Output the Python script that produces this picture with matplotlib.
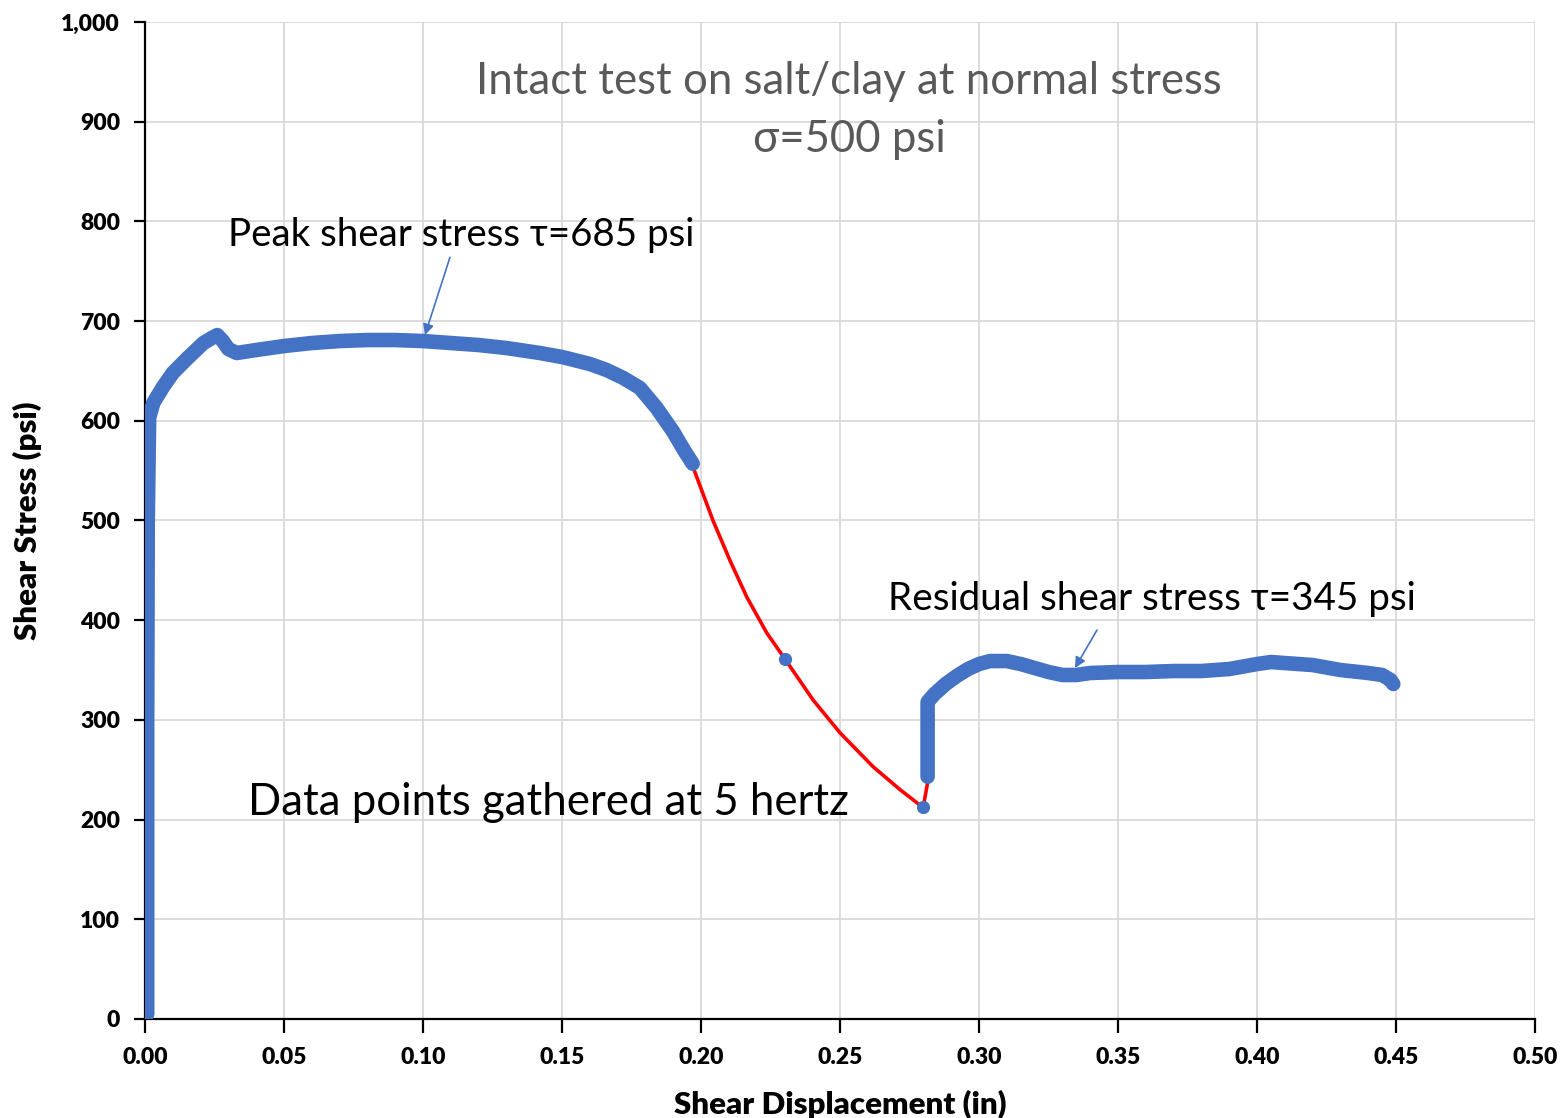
import matplotlib
matplotlib.use("Agg")
import matplotlib.pyplot as plt
from matplotlib.ticker import FuncFormatter

plt.rcParams['font.family'] = ['Lato', 'DejaVu Sans']

# Measured (blue) series: pre-peak and post-peak
x_pre = [0.0008, 0.0008, 0.0010, 0.0015, 0.003, 0.0065, 0.010, 0.015, 0.021, 0.024, 0.026,
         0.028, 0.030, 0.033, 0.040, 0.050, 0.060, 0.070, 0.080, 0.090, 0.100, 0.110,
         0.120, 0.130, 0.142, 0.150, 0.160, 0.166, 0.172, 0.178, 0.184, 0.190,
         0.194, 0.197]
y_pre = [5, 300, 500, 603, 618, 634, 648, 662, 678, 683, 686,
         680, 672, 668, 671, 675, 678, 680, 681, 681, 680, 678,
         676, 673, 668, 664, 657, 651, 643, 633, 613, 589,
         570, 557]

# Interpolated gap (red)
x_gap = [0.1968, 0.2043, 0.2104, 0.2165, 0.2237, 0.2302, 0.2403, 0.2500, 0.2619, 0.2716,
         0.2799, 0.2815]
y_gap = [556, 500, 460, 423, 387, 361, 320, 287, 253, 230,
         212, 237]

# Isolated samples inside the gap
x_iso = [0.2302, 0.2799]
y_iso = [361, 213]

# Residual (blue)
x_res = [0.2815, 0.2815, 0.2815, 0.284, 0.288, 0.292, 0.296, 0.300, 0.304, 0.310,
         0.315, 0.320, 0.325, 0.330, 0.335, 0.340, 0.350, 0.360, 0.370, 0.380,
         0.390, 0.400, 0.405, 0.410, 0.420, 0.430, 0.440, 0.445, 0.448, 0.449]
y_res = [243, 290, 318, 326, 336, 344, 351, 356, 359, 359,
         356, 352, 348, 345, 345, 347, 348, 348, 349, 349,
         351, 356, 358, 357, 355, 350, 347, 345, 340, 336]

x_ticks = [0.00, 0.05, 0.10, 0.15, 0.20, 0.25, 0.30, 0.35, 0.40, 0.45, 0.50]
y_ticks = [0, 100, 200, 300, 400, 500, 600, 700, 800, 900, 1000]

blue = '#4472C4'
fig = plt.figure(figsize=(15.64, 11.18), dpi=100)
ax = fig.add_axes([0.0927, 0.0886, 0.8888, 0.8917])

ax.plot(x_gap, y_gap, color='#FF0000', lw=2.6, zorder=3)
ax.plot(x_pre, y_pre, color=blue, lw=10.5, solid_capstyle='round', solid_joinstyle='round', zorder=4)
ax.plot(x_res, y_res, color=blue, lw=10.5, solid_capstyle='round', solid_joinstyle='round', zorder=4)
ax.plot(x_iso, y_iso, 'o', color=blue, ms=8.5, zorder=5)

ax.set_xlim(0, 0.5)
ax.set_ylim(0, 1000)
ax.set_xticks(x_ticks)
ax.set_yticks(y_ticks)
ax.xaxis.set_major_formatter(FuncFormatter(lambda v, p: f'{v:.2f}'))
ax.yaxis.set_major_formatter(FuncFormatter(lambda v, p: f'{int(v):,}'))
ax.grid(True, color='#d9d9d9', lw=1.3)
ax.set_axisbelow(True)
for s in ['top', 'right']:
    ax.spines[s].set_visible(False)
for s in ['left', 'bottom']:
    ax.spines[s].set_linewidth(1.6)
ax.tick_params(axis='x', direction='out', length=10, width=1.6, labelsize=16.5, pad=10)
ax.tick_params(axis='y', direction='out', length=8, width=1.6, labelsize=16.5, pad=10)
for lab in ax.get_xticklabels() + ax.get_yticklabels():
    lab.set_fontweight('heavy')

ax.set_xlabel('Shear Displacement (in)', fontsize=22.5, fontweight='heavy', labelpad=16)
ax.set_ylabel('Shear Stress (psi)', fontsize=22.5, fontweight='heavy', labelpad=14)

ax.text(0.2532, 940, 'Intact test on salt/clay at normal stress', ha='center', va='center',
        fontsize=31.5, color='#595959')
ax.text(0.2532, 882, 'σ=500 psi', ha='center', va='center', fontsize=31.5, color='#595959')

ax.text(0.0299, 786, 'Peak shear stress τ=685 psi', fontsize=27.7, color='black',
        va='center', ha='left')
ax.annotate('', xy=(0.1007, 686), xytext=(0.1097, 764),
            arrowprops=dict(arrowstyle='-|>', color=blue, lw=1.2, mutation_scale=16,
                            shrinkA=0, shrinkB=0))
ax.text(0.2673, 421, 'Residual shear stress τ=345 psi', fontsize=27.8, color='black',
        va='center', ha='left')
ax.annotate('', xy=(0.3345, 352), xytext=(0.3424, 390),
            arrowprops=dict(arrowstyle='-|>', color=blue, lw=1.2, mutation_scale=16,
                            shrinkA=0, shrinkB=0))
ax.text(0.037, 217, 'Data points gathered at 5 hertz', fontsize=31.5, color='black',
        va='center', ha='left')

fig.savefig('out.png', dpi=100)
